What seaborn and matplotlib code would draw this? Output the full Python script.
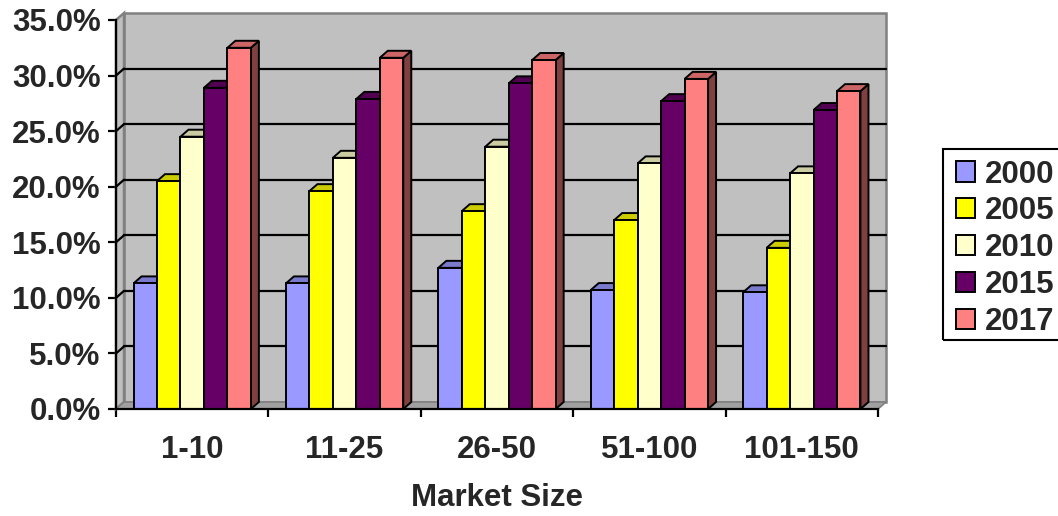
import numpy as np
import pandas as pd
import matplotlib
matplotlib.use('Agg')
import matplotlib.pyplot as plt
import seaborn as sns
from matplotlib.patches import Polygon, Patch, Rectangle
from matplotlib.ticker import PercentFormatter, FixedLocator

sns.set_style('white')
plt.rcParams['font.family'] = ['Liberation Sans', 'DejaVu Sans']
plt.rcParams['font.weight'] = 'bold'

market_sizes = ['1-10', '11-25', '26-50', '51-100', '101-150']
years = ['2000', '2005', '2010', '2015', '2017']
share_2000 = [11.3, 11.3, 12.7, 10.7, 10.5]
share_2005 = [20.5, 19.6, 17.8, 17.0, 14.5]
share_2010 = [24.5, 22.6, 23.6, 22.1, 21.2]
share_2015 = [28.9, 27.9, 29.3, 27.7, 26.9]
share_2017 = [32.5, 31.6, 31.4, 29.7, 28.6]
colors = ['#9999FF', '#FFFF00', '#FFFFCC', '#660066', '#FF8080']

rows = []
for yr, vals in zip(years, [share_2000, share_2005, share_2010, share_2015, share_2017]):
    for m, v in zip(market_sizes, vals):
        rows.append({'Market Size': m, 'Year': yr, 'Share': v / 100})
df = pd.DataFrame(rows)

W, H = 1058, 516
fig = plt.figure(figsize=(W / 100, H / 100), dpi=100)
ax = fig.add_axes([116 / W, 1 - 409 / H, 762 / W, 389 / H])
ax.patch.set_visible(False)

# 3d depth offset in data units (about 8px right, 7px up)
dx = 8 / 152.4
dy = 7 / 389 * 0.35

sns.barplot(data=df, x='Market Size', y='Share', hue='Year', palette=colors,
            saturation=1, width=0.77, edgecolor='black', linewidth=1.4,
            legend=False, ax=ax)
ax.set_xlim(-0.5, 4.5)
ax.set_ylim(0, 0.35)

# back wall, side wall, floor
x0, x1 = -0.5, 4.5
wall = Polygon([(x0 + dx, dy), (x1 + dx, dy), (x1 + dx, 0.35 + dy), (x0 + dx, 0.35 + dy)],
               closed=True, facecolor='#C0C0C0', edgecolor='#808080', lw=1.8, zorder=0.5, clip_on=False)
side = Polygon([(x0, 0), (x0 + dx, dy), (x0 + dx, 0.35 + dy), (x0, 0.35)],
               closed=True, facecolor='#C0C0C0', edgecolor='#808080', lw=1.8, zorder=0.6, clip_on=False)
floor = Polygon([(x0, 0), (x1, 0), (x1 + dx, dy), (x0 + dx, dy)],
                closed=True, facecolor='#A0A0A0', edgecolor='#808080', lw=1.2, zorder=0.7, clip_on=False)
for p in [wall, side, floor]:
    ax.add_patch(p)

for v in np.arange(0.05, 0.31, 0.05):
    ax.plot([x0 + dx, x1 + dx], [v + dy, v + dy], color='black', lw=1.6, zorder=1, clip_on=False)
    ax.plot([x0, x0 + dx], [v, v + dy], color='black', lw=1.6, zorder=1, clip_on=False)

# top and side faces for each bar, drawn left to right
bars = []
for i, cont in enumerate(ax.containers):
    for bar in cont:
        bars.append((bar.get_x(), bar, colors[i]))
bars.sort(key=lambda b: b[0])
for k, (_, bar, c) in enumerate(bars):
    x, w, h = bar.get_x(), bar.get_width(), bar.get_height()
    z = 2 + k
    rgb = np.array(matplotlib.colors.to_rgb(c))
    top = Polygon([(x, h), (x + dx, h + dy), (x + w + dx, h + dy), (x + w, h)], closed=True,
                  facecolor=rgb * 0.8, edgecolor='black', lw=1.4, zorder=z, clip_on=False)
    sd = Polygon([(x + w, 0), (x + w + dx, dy), (x + w + dx, h + dy), (x + w, h)], closed=True,
                 facecolor=rgb * 0.5, edgecolor='black', lw=1.4, zorder=z, clip_on=False)
    ax.add_patch(sd)
    ax.add_patch(top)
    bar.set_zorder(z + 0.5)

for s in ['top', 'right']:
    ax.spines[s].set_visible(False)
for s in ['left', 'bottom']:
    ax.spines[s].set_color('black')
    ax.spines[s].set_linewidth(1.6)
    ax.spines[s].set_zorder(50)

ax.yaxis.set_major_locator(FixedLocator(np.arange(0, 0.351, 0.05)))
ax.yaxis.set_major_formatter(PercentFormatter(1.0, decimals=1))
ax.tick_params(axis='y', direction='out', length=6, width=1.6, color='black', pad=5, labelsize=22.5, left=True)
ax.set_xticks(range(len(market_sizes)))
ax.set_xticklabels(market_sizes)
ax.xaxis.set_minor_locator(FixedLocator(np.arange(-0.5, 4.6, 1)))
ax.tick_params(axis='x', which='major', length=0, pad=19, labelsize=22.5)
ax.tick_params(axis='x', which='minor', direction='out', length=6, width=1.6, color='black', bottom=True)
ax.set_ylabel('')
ax.set_xlabel('Market Size', fontsize=22.5, fontweight='bold', labelpad=13)

# legend entries, with a box that runs off the right edge like the original
handles = [Patch(facecolor=c, edgecolor='black', linewidth=1.4) for c in colors]
leg = fig.legend(handles, years, loc='upper left', bbox_to_anchor=(943 / W, 1 - 147 / H),
                 bbox_transform=fig.transFigure, frameon=False,
                 handlelength=0.61, handleheight=0.61, handletextpad=0.32, labelspacing=0.22,
                 borderpad=0.4, borderaxespad=0, fontsize=22.5)
fig.add_artist(Rectangle((943 / W, 1 - 340 / H), 140 / W, 191 / H, transform=fig.transFigure,
                         fill=False, edgecolor='black', lw=1.5, clip_on=False))

fig.savefig('out.png', dpi=100)
